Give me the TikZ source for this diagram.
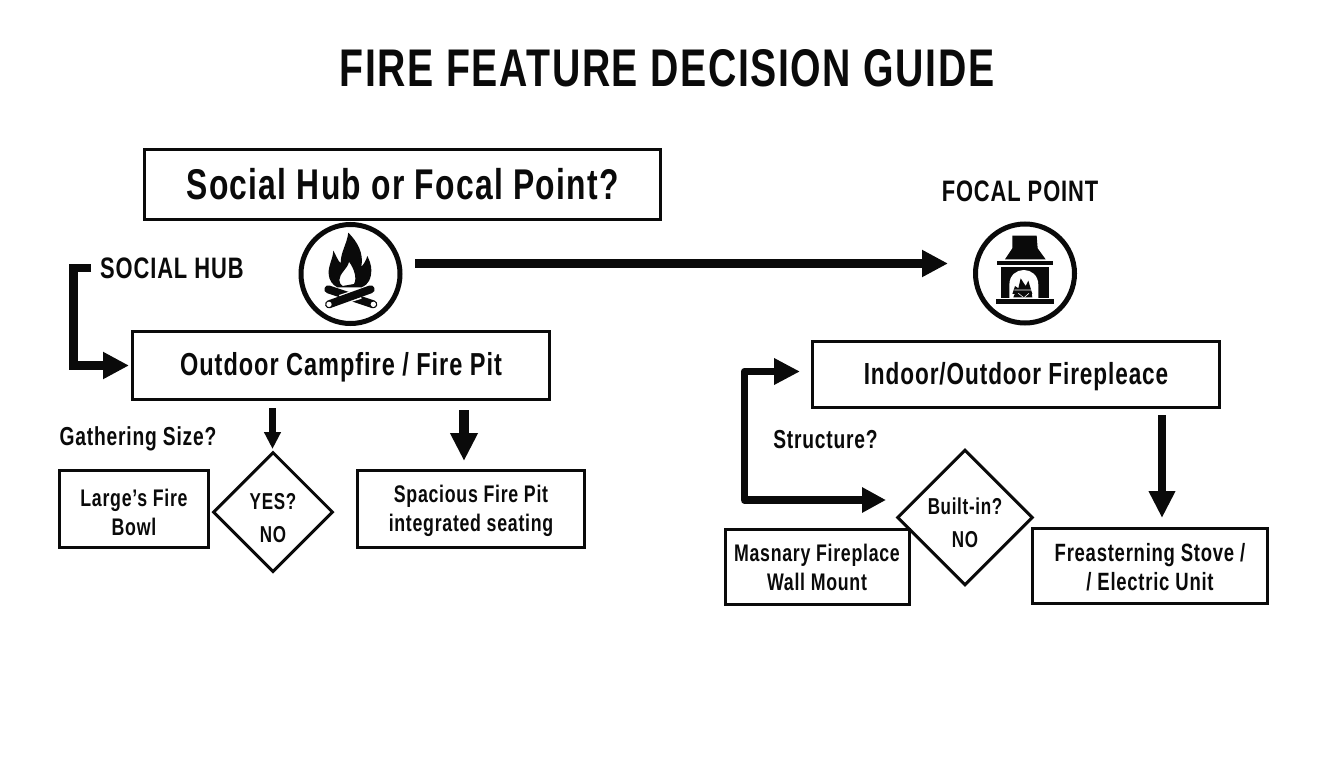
\documentclass[tikz,border=0pt]{standalone}
\usepackage{fontspec}
\setmainfont[FakeStretch=0.74,LetterSpace=3,BoldFont={Liberation Sans Bold}]{Liberation Sans}
\newcommand{\dropto}[1]{\rule{0pt}{#1pt}}
\usetikzlibrary{arrows.meta,shapes.geometric}
\definecolor{ink}{HTML}{0A0A0A}
\tikzset{
  x=1pt,y=-1pt,
  boxnode/.style={draw=ink,line width=3pt,rectangle,inner sep=0pt,align=center,text=ink,font=\bfseries\fontsize{24}{29}\selectfont},
  decision/.style={draw=ink,line width=3pt,diamond,aspect=1,inner sep=0pt,align=center,text=ink,font=\bfseries\fontsize{23}{33}\selectfont},
  lab/.style={text=ink,inner sep=0pt,font=\bfseries\fontsize{26}{30}\selectfont},
  biglab/.style={text=ink,inner sep=0pt,font=\bfseries\fontsize{29.6}{34}\selectfont},
  bigbox/.style={boxnode,font=\bfseries\fontsize{31.8}{36}\selectfont},
  ring/.style={draw=ink,line width=5pt,circle,minimum size=99pt,inner sep=0pt},
  flow/.style={draw=ink,line cap=butt},
  bighead/.style={-{Triangle[length=26pt,width=25.5pt]}},
}
\begin{document}
\begin{tikzpicture}
\useasboundingbox (0,0) rectangle (1344,768);
\fill[white] (0,0) rectangle (1344,768);
\node[text=ink,inner sep=0pt,font=\bfseries\fontsize{53}{60}\selectfont] (title) at (667,68) {FIRE FEATURE DECISION GUIDE};
\node[boxnode,minimum width=516pt,minimum height=70pt,font=\bfseries\fontsize{43}{48}\selectfont] (q) at (402.5,184.5) {Social Hub or Focal Point?};
\node[ring] (hub) at (350.5,274) {};
\node[ring] (focal) at (1025,273.5) {};
\node[biglab,anchor=west] (hublab) at (100,268) {SOCIAL HUB};
\node[biglab] (foclab) at (1020,191) {FOCAL POINT};
\node[bigbox,minimum width=417pt,minimum height=68pt] (out) at (341,365.5) {\dropto{27}Outdoor Campfire / Fire Pit};
\node[bigbox,minimum width=407pt,minimum height=66pt,font=\bfseries\fontsize{30.5}{36}\selectfont] (ind) at (1016,374.5) {\dropto{27}Indoor/Outdoor Firepleace};
\node[boxnode,minimum width=149pt,minimum height=77pt] (large) at (134,509) {\dropto{24}Large's Fire\\Bowl};
\node[decision,minimum size=120pt] (yes) at (273,512) {\dropto{28}YES?\\NO};
\node[boxnode,minimum width=227pt,minimum height=77pt] (spa) at (471,509) {\dropto{22}Spacious Fire Pit\\integrated seating};
\node[lab] (gather) at (138,439) {Gathering Size?};
\node[lab] (struct) at (825.5,440) {Structure?};
\node[boxnode,minimum width=184pt,minimum height=75pt] (mas) at (817,566.5) {\dropto{20}Masnary Fireplace\\Wall Mount};
\node[decision,minimum size=134pt] (built) at (965,517.5) {\dropto{28}Built-in?\\NO};
\node[boxnode,minimum width=235pt,minimum height=75pt,font=\bfseries\fontsize{25}{29}\selectfont] (frea) at (1150,566) {\dropto{21}Freasterning Stove /\\/ Electric Unit};
% connector free ends
\coordinate (hubstart) at (91,268);
\coordinate (hubend) at (129,365.5);
\coordinate (indstart) at (800,371.5);
\coordinate (mainstart) at (415,263.5);
\coordinate (mainend) at (948,263.5);
\coordinate (indend) at (886,500);
\coordinate (outa) at (272.5,408);
\coordinate (yesend) at (272.5,449);
\coordinate (outb) at (464,410);
\coordinate (spaend) at (464,461);
\coordinate (indb) at (1162,415);
\coordinate (freaend) at (1162,518);
\draw[flow,line width=9pt,bighead] (mainstart) -- (mainend);
\draw[flow,line width=8.6pt,bighead] (hubstart) -- (73.5,268) -- (73.5,365.5) -- (hubend);
\draw[flow,line width=7.5pt,line join=round,{Triangle[length=26pt,width=25pt]}-{Triangle[length=24pt,width=24pt]}] (indstart) -- (744.5,371.5) -- (744.5,500) -- (indend);
\draw[flow,line width=6.5pt,-{Triangle[length=17pt,width=16pt]}] (outa) -- (yesend);
\draw[flow,line width=10pt,-{Triangle[length=28pt,width=26pt]}] (outb) -- (spaend);
\draw[flow,line width=8pt,-{Triangle[length=27pt,width=25pt]}] (indb) -- (freaend);
% campfire icon
\begin{scope}[shift={(280,210)},x=0.3333pt,y=-0.3333pt]
\fill[ink,even odd rule] (205,68) .. controls (200,105) and (182,125) .. (182,160) .. controls (172,150) and (168,135) .. (160,122) .. controls (158,150) and (145,165) .. (146,190) .. controls (147,212) and (158,225) .. (172,232) -- (245,232) .. controls (265,225) and (274,205) .. (274,180) .. controls (274,165) and (268,150) .. (262,138) .. controls (258,152) and (252,162) .. (244,170) .. controls (252,130) and (232,95) .. (205,68) -- cycle
(207,155) .. controls (204,175) and (178,190) .. (178,210) .. controls (178,218) and (182,224) .. (188,228) -- (222,222) .. controls (232,205) and (222,175) .. (207,155) -- cycle;
\draw[ink,line width=8pt,line cap=round] (145,238) -- (280,283);
\draw[white,line width=10.5pt] (240,251) -- (182,270);
\draw[ink,line width=8pt,line cap=round] (272,238) -- (147,283);
\fill[white] (147,283) circle[radius=8] (280,283) circle[radius=8];
\end{scope}
% fireplace icon
\begin{scope}[shift={(955,210)},x=0.3333pt,y=-0.3333pt]
\fill[ink] (172,77) -- (245,77) -- (248,115) -- (272,148) -- (150,148) -- (172,115) -- cycle;
\fill[ink] (125,153) rectangle (293,164);
\fill[ink] (137,170) rectangle (282,265);
\fill[ink] (123,268) rectangle (297,282);
\fill[white] (163,265) -- (163,225) .. controls (163,165) and (250,165) .. (250,225) -- (250,265) -- cycle;
\fill[ink] (172,252) -- (180,228) -- (190,235) -- (197,205) -- (212,228) -- (220,212) -- (232,252) -- cycle;
\fill[ink] (180,250) -- (230,250) -- (232,262) -- (175,262) -- cycle;
\draw[white,line width=0.6pt] (190,250) -- (205,262) (222,250) -- (208,262) (178,240) -- (230,240);
\end{scope}
\end{tikzpicture}
\end{document}
